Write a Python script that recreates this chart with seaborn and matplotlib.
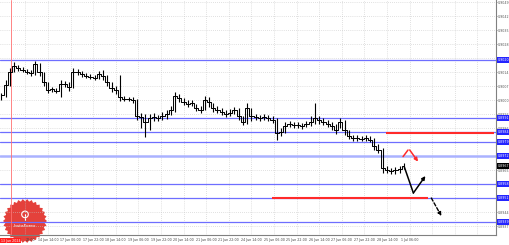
import numpy as np
import pandas as pd
import matplotlib
matplotlib.use("Agg")
import matplotlib.pyplot as plt
import seaborn as sns
from matplotlib.patches import Polygon, Circle
from matplotlib.transforms import blended_transform_factory

# ---------------- data ----------------
bar_hour = list(range(0, 288, 3))          # hours since 13 Jun 05:00 (3-hour bars)
close = [0.90025, 0.90075, 0.9014, 0.9017, 0.9016, 0.9015, 0.9014, 0.90135, 0.9018, 0.9014,
         0.9009, 0.9005, 0.90055, 0.90045, 0.9008, 0.9008, 0.90065, 0.9014, 0.9014, 0.9013,
         0.9012, 0.90115, 0.9011, 0.9013, 0.9012, 0.9009, 0.9006, 0.9005, 0.90015, 0.90005,
         0.90005, 0.9000, 0.8992, 0.89915, 0.8989, 0.8991, 0.89915, 0.8991, 0.8992, 0.8993,
         0.8995, 0.9002, 0.9001, 0.8999, 0.8998, 0.89985, 0.8996, 0.8995, 0.9000, 0.8999,
         0.8996, 0.8995, 0.8994, 0.8993, 0.89935, 0.8995, 0.8992, 0.8989, 0.8996, 0.8992,
         0.89915, 0.8991, 0.89915, 0.8991, 0.8990, 0.89835, 0.8984, 0.8987, 0.8988, 0.89875,
         0.89875, 0.8987, 0.8988, 0.8989, 0.8991, 0.8990, 0.8989, 0.8988, 0.8987, 0.8985,
         0.8989, 0.8985, 0.8982, 0.8981, 0.8981, 0.89805, 0.8981, 0.8980, 0.8977, 0.8975,
         0.8966, 0.8965, 0.89645, 0.8965, 0.89655, 0.8967]
high = [0.90035, 0.9010, 0.9016, 0.9019, 0.90175, 0.90165, 0.90155, 0.9015, 0.90195, 0.90185,
        0.9014, 0.9009, 0.90065, 0.9006, 0.9010, 0.90095, 0.9009, 0.9016, 0.90155, 0.90145,
        0.90135, 0.9013, 0.90125, 0.90145, 0.9015, 0.90125, 0.9009, 0.9007, 0.90125, 0.9002,
        0.90015, 0.90015, 0.90005, 0.89935, 0.8993, 0.8993, 0.89935, 0.89925, 0.8994, 0.8995,
        0.8997, 0.9004, 0.9003, 0.9001, 0.9000, 0.9000, 0.8998, 0.8997, 0.9002, 0.90015,
        0.89985, 0.8997, 0.8996, 0.8995, 0.89955, 0.89965, 0.8996, 0.8992, 0.89985, 0.8996,
        0.8993, 0.89925, 0.8993, 0.89925, 0.8992, 0.8991, 0.8986, 0.8989, 0.89895, 0.8989,
        0.8989, 0.89885, 0.89895, 0.8992, 0.89985, 0.8992, 0.8991, 0.8990, 0.8989, 0.8988,
        0.8991, 0.8990, 0.8985, 0.89825, 0.89825, 0.8982, 0.89825, 0.8982, 0.8981, 0.8978,
        0.8976, 0.8967, 0.8966, 0.89665, 0.8967, 0.89685]
low = [0.9000, 0.90015, 0.9007, 0.9014, 0.90145, 0.9014, 0.9013, 0.9012, 0.90125, 0.9012,
       0.9007, 0.90035, 0.9004, 0.90035, 0.90015, 0.90065, 0.90045, 0.9006, 0.90125, 0.90115,
       0.9011, 0.90105, 0.9010, 0.90105, 0.9010, 0.9007, 0.9004, 0.9003, 0.89995, 0.89995,
       0.89995, 0.89985, 0.8990, 0.8986, 0.89815, 0.8985, 0.89895, 0.89895, 0.8990, 0.89905,
       0.89925, 0.8994, 0.8999, 0.89975, 0.89965, 0.8997, 0.89945, 0.89935, 0.8995, 0.89965,
       0.8994, 0.89935, 0.89925, 0.89915, 0.8992, 0.8993, 0.8990, 0.89875, 0.8988, 0.89895,
       0.8990, 0.89895, 0.8990, 0.89895, 0.89885, 0.8980, 0.8982, 0.89835, 0.89865, 0.8986,
       0.8986, 0.89855, 0.89865, 0.8987, 0.8988, 0.8988, 0.89875, 0.89865, 0.8985, 0.8983,
       0.8986, 0.89825, 0.89805, 0.89795, 0.89795, 0.89795, 0.89795, 0.8979, 0.8975, 0.89735,
       0.89635, 0.89635, 0.8963, 0.8963, 0.89635, 0.89655]

blue_levels = [0.9020, 0.8991, 0.8984, 0.8979, 0.8958, 0.8951, 0.8939]
light_level = 0.8972
current_price = 0.8967
red_levels = [0.89835, 0.8951]
red_from = [272.6, 191.9]
red_to = [349.0, 302.3]

price_ticks = [0.9049, 0.9042, 0.9035, 0.9028, 0.9021, 0.9014, 0.9007, 0.9000, 0.8993,
               0.8986, 0.8979, 0.8972, 0.8965, 0.8958, 0.8951, 0.8944, 0.8937]
time_ticks = [17, 33, 49, 65, 81, 97, 113, 129, 145, 161, 177, 193, 209, 225, 241, 257,
              273, 289, 305, 321, 337]
time_labels = ["22:00", "14 Jun 14:00", "17 Jun 06:00", "17 Jun 22:00", "18 Jun 14:00",
               "19 Jun 06:00", "19 Jun 22:00", "20 Jun 14:00", "21 Jun 06:00", "21 Jun 22:00",
               "24 Jun 14:00", "25 Jun 06:00", "25 Jun 22:00", "26 Jun 14:00", "27 Jun 06:00",
               "27 Jun 22:00", "28 Jun 14:00", "1 Jul 06:00", "", "", ""]
marker_hour = 7
marker_label = "13 Jun 2024"

# forecast arrows (hour, price)
black_path_x = [285.3, 291.7, 300.2]
black_path_y = [0.89665, 0.89535, 0.8962]
dash_x = [304.4, 311.5]
dash_y = [0.8951, 0.8942]
red_path_x = [284.4, 287.9, 289.1, 295.0]
red_path_y = [0.89717, 0.8975, 0.8975, 0.89692]

df = pd.DataFrame({"hour": bar_hour, "close": close, "high": high, "low": low})

# ---------------- figure ----------------
sns.set_theme(style="white")
plt.rcParams['font.family'] = ['DejaVu Sans']

W, H = 510, 245
fig = plt.figure(figsize=(W / 100, H / 100), dpi=100)
fig.patch.set_facecolor("white")

# logo (behind chart)
lax = fig.add_axes([3 / W, 2 / H, 44 / W, 44 / H])
lax.set_zorder(0)
lax.set_xlim(-1, 1); lax.set_ylim(-1, 1); lax.axis("off")
n_teeth = 30
ang = np.linspace(0, 2 * np.pi, 2 * n_teeth, endpoint=False)
rad = np.where(np.arange(2 * n_teeth) % 2 == 0, 1.0, 0.9)
lax.add_patch(Polygon(np.c_[rad * np.cos(ang), rad * np.sin(ang)], closed=True,
                      fc="#e2312a", ec="none", alpha=0.92))
lax.add_patch(Circle((0, 0.3), 0.15, fill=False, ec="white", lw=0.8))
lax.plot([0, 0], [0.05, 0.32], color="white", lw=0.8)
lax.text(0, -0.22, "InstaForex", color="white", fontsize=3.2, ha="center", va="center")

ax = fig.add_axes([0, 10 / H, 496 / W, 235 / H])
ax.set_zorder(2)
ax.patch.set_alpha(0)

ax.set_xlim(-1, 350.2)
ax.set_ylim(0.89325, 0.9050)

grid_kw = dict(color="#c4c4c4", lw=0.5, ls=(0, (1, 2)), zorder=0)
for t in time_ticks:
    ax.axvline(t, **grid_kw)
for p in price_ticks:
    ax.axhline(p, **grid_kw)

# levels
for lv in blue_levels:
    ax.axhline(lv, color="#6e6eff", lw=0.9, zorder=1)
ax.axhline(light_level, color="#aab2ff", lw=1.8, zorder=1)
ax.axvline(marker_hour, color="#ff7070", lw=0.6, zorder=1)

# candles
ax.vlines(df["hour"], df["low"], df["high"], color="black", lw=0.8, zorder=3)
sns.lineplot(data=df, x="hour", y="close", ax=ax, color="black", lw=0.7,
             drawstyle="steps-mid", zorder=3)

for lv, a, b in zip(red_levels, red_from, red_to):
    ax.hlines(lv, a, b, color="#ff2a2a", lw=1.5, zorder=4)

# forecast arrows
ax.plot(black_path_x[:2], black_path_y[:2], color="black", lw=1.1, zorder=5)
ax.annotate("", xy=(black_path_x[2], black_path_y[2]), xytext=(black_path_x[1], black_path_y[1]),
            arrowprops=dict(arrowstyle="-|>", color="black", lw=1.1, mutation_scale=5,
                            shrinkA=0, shrinkB=0), zorder=5)
ax.annotate("", xy=(dash_x[1], dash_y[1]), xytext=(dash_x[0], dash_y[0]),
            arrowprops=dict(arrowstyle="-|>", color="black", lw=1.0, ls=(0, (2.5, 1.5)),
                            mutation_scale=5, shrinkA=0, shrinkB=0), zorder=5)
ax.plot(red_path_x[:2], red_path_y[:2], color="#ff2a2a", lw=1.1, zorder=5)
ax.annotate("", xy=(red_path_x[3], red_path_y[3]), xytext=(red_path_x[2], red_path_y[2]),
            arrowprops=dict(arrowstyle="-|>", color="#ff2a2a", lw=1.1, mutation_scale=5,
                            shrinkA=0, shrinkB=0), zorder=5)

# axes styling
for s in ["top", "left"]:
    ax.spines[s].set_visible(False)
for s in ["right", "bottom"]:
    ax.spines[s].set_visible(True)
    ax.spines[s].set_color("#808080")
    ax.spines[s].set_linewidth(0.8)
ax.yaxis.tick_right()
ax.set_yticks(price_ticks)
ax.set_yticklabels([f"{p:.4f}" for p in price_ticks])
ax.set_xticks(time_ticks)
ax.set_xticklabels(time_labels)
ax.tick_params(axis="y", labelsize=2.3, colors="#555555", length=1.0, width=0.5, pad=0.6)
ax.tick_params(axis="x", labelsize=2.3, colors="#444444", length=1.5, width=0.5, pad=1)
first = ax.get_xticklabels()[0]
first.set_horizontalalignment("left")
ax.set_xlabel(""); ax.set_ylabel("")

# level labels on the price axis
tr = blended_transform_factory(ax.transAxes, ax.transData)
for lv in blue_levels + [light_level]:
    ax.text(1.003, lv, f"{lv:.4f}", transform=tr, ha="left", va="center", fontsize=2.3,
            color="white", clip_on=False, zorder=6,
            bbox=dict(boxstyle="square,pad=0.2", fc="#2424ff", ec="none"))
ax.text(1.003, current_price, f"{current_price:.4f}", transform=tr, ha="left", va="center",
        fontsize=2.3, color="white", clip_on=False, zorder=6,
        bbox=dict(boxstyle="square,pad=0.2", fc="black", ec="none"))

# red time marker label
fig.text(0.6 / W, 4.5 / H, marker_label, fontsize=2.3, color="white", ha="left", va="center",
         zorder=10, bbox=dict(boxstyle="square,pad=0.25", fc="#ff2020", ec="none"))

fig.savefig("out.png", dpi=100, facecolor="white")
